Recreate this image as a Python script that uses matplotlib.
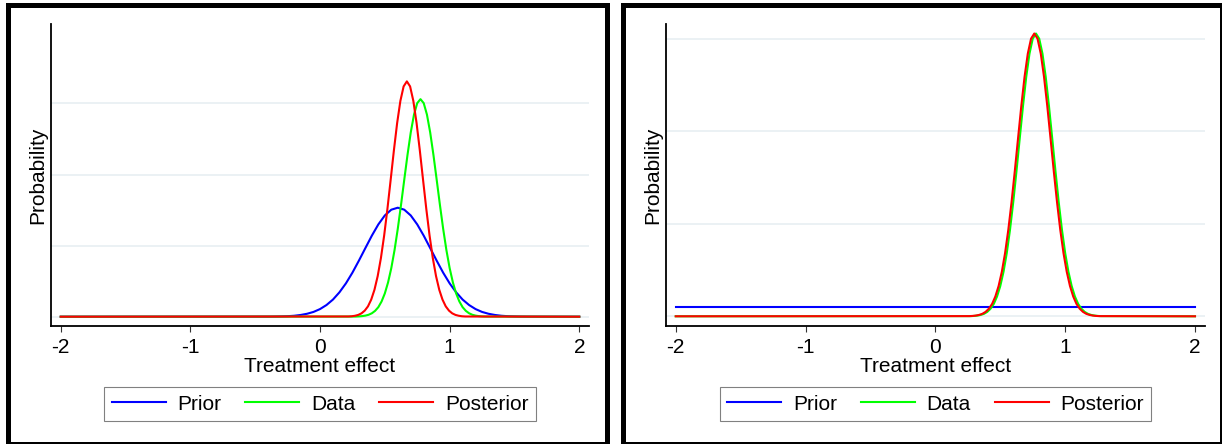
import matplotlib.pyplot as plt
from matplotlib.patches import Rectangle

plt.rcParams['font.family'] = ['Liberation Sans', 'DejaVu Sans']

# ---- data ----
xticks = [-2, -1, 0, 1, 2]
grid_left = [0, 1, 2, 3]
grid_right = [0, 1, 2, 3]
labels = ['Prior', 'Data', 'Posterior']

# left panel: informative prior
prior_x = [-2.0, -0.4, -0.35, -0.3, -0.25, -0.2, -0.15, -0.1, -0.05, 0.0, 0.05,
           0.1, 0.15, 0.2, 0.25, 0.3, 0.35, 0.4, 0.45, 0.5, 0.55, 0.6, 0.65,
           0.7, 0.75, 0.8, 0.85, 0.9, 0.95, 1.0, 1.05, 1.1, 1.15, 1.2, 1.25,
           1.3, 1.35, 1.4, 1.45, 1.5, 1.55, 1.6, 2.0]
prior_y = [0, 0.001, 0.002, 0.004, 0.007, 0.013, 0.024, 0.041, 0.067, 0.107, 0.164,
           0.241, 0.343, 0.469, 0.619, 0.788, 0.965, 1.140, 1.298, 1.424, 1.505,
           1.533, 1.505, 1.424, 1.298, 1.140, 0.965, 0.788, 0.619, 0.469, 0.343,
           0.241, 0.164, 0.107, 0.067, 0.041, 0.024, 0.013, 0.007, 0.004, 0.002,
           0.001, 0]

data_x = [-2.0, 0.275, 0.3, 0.325, 0.35, 0.375, 0.4, 0.425, 0.45, 0.475, 0.5,
          0.525, 0.55, 0.575, 0.6, 0.625, 0.65, 0.675, 0.7, 0.725, 0.75, 0.775,
          0.8, 0.825, 0.85, 0.875, 0.9, 0.925, 0.95, 0.975, 1.0, 1.025, 1.05,
          1.075, 1.1, 1.125, 1.15, 1.175, 1.2, 1.225, 1.25, 1.275, 2.0]
data_y = [0, 0.002, 0.004, 0.008, 0.015, 0.027, 0.048, 0.082, 0.134, 0.214, 0.327,
          0.482, 0.684, 0.937, 1.237, 1.573, 1.927, 2.276, 2.591, 2.842, 3.004,
          3.06, 3.004, 2.842, 2.591, 2.276, 1.927, 1.573, 1.237, 0.937, 0.684,
          0.482, 0.327, 0.214, 0.134, 0.082, 0.048, 0.027, 0.015, 0.008, 0.004,
          0.002, 0]

post_x = [-2.0, 0.22, 0.245, 0.27, 0.295, 0.32, 0.345, 0.37, 0.395, 0.42, 0.445,
          0.47, 0.495, 0.52, 0.545, 0.57, 0.595, 0.62, 0.645, 0.67, 0.695, 0.72,
          0.745, 0.77, 0.795, 0.82, 0.845, 0.87, 0.895, 0.92, 0.945, 0.97, 0.995,
          1.02, 1.045, 1.07, 1.095, 1.12, 2.0]
post_y = [0, 0.003, 0.006, 0.013, 0.025, 0.047, 0.085, 0.145, 0.240, 0.378, 0.571,
          0.826, 1.143, 1.515, 1.924, 2.339, 2.723, 3.035, 3.239, 3.31, 3.239,
          3.035, 2.723, 2.339, 1.924, 1.515, 1.143, 0.826, 0.571, 0.378, 0.240,
          0.145, 0.085, 0.047, 0.025, 0.013, 0.006, 0.003, 0]

# right panel: flat prior
flat_x = [-2.0, 2.0]
flat_y = [0.1, 0.1]
flat_data_x = data_x
flat_data_y = data_y
flat_post_x = [-2.0, 0.262, 0.287, 0.312, 0.337, 0.362, 0.387, 0.412, 0.437, 0.462,
               0.487, 0.512, 0.537, 0.562, 0.587, 0.612, 0.637, 0.662, 0.687, 0.712,
               0.737, 0.762, 0.787, 0.812, 0.837, 0.862, 0.887, 0.912, 0.937, 0.962,
               0.987, 1.012, 1.037, 1.062, 1.087, 1.112, 1.137, 1.162, 1.187, 1.212,
               1.237, 1.262, 2.0]
flat_post_y = data_y

colors = ['#0000ff', '#00ff00', '#ff0000']

W, H = 1222, 444
fig = plt.figure(figsize=(W / 100, H / 100), dpi=100)

# panel frames (drawn in pixel space)
bg = fig.add_axes([0, 0, 1, 1], zorder=-1)
bg.set_xlim(0, W)
bg.set_ylim(H, 0)
bg.axis('off')
lw_frame = 5 * 72 / 100
for x0 in [7.5, 622.5]:
    bg.add_patch(Rectangle((x0, 5.5), 599, 438, fill=False, ec='black',
                           lw=lw_frame, joinstyle='miter'))


def panel(px_left, px_right, xlim, ylim, grid, series, legend_cx):
    ax = fig.add_axes([px_left / W, (H - 326) / H, (px_right - px_left) / W, 302 / H])
    for g in grid:
        ax.axhline(g, color='#e6eef1', lw=1.1, zorder=0)
    handles = []
    for (x, y), c in zip(series, colors):
        ln, = ax.plot(x, y, color=c, lw=1.5, zorder=2)
        handles.append(ln)
    ax.set_xlim(*xlim)
    ax.set_ylim(*ylim)
    ax.set_xticks(xticks)
    ax.set_xticklabels([str(t) for t in xticks])
    ax.set_yticks([])
    ax.tick_params(axis='x', direction='out', length=4.3, width=0.8,
                   color='#333333', labelsize=15, pad=4.5)
    for s in ['top', 'right']:
        ax.spines[s].set_visible(False)
    for s in ['left', 'bottom']:
        ax.spines[s].set_linewidth(1.3)
    ax.set_xlabel('Treatment effect', fontsize=15, labelpad=0)
    ax.set_ylabel('Probability', fontsize=15, labelpad=3)
    leg = fig.legend(handles, labels, loc='center',
                     bbox_to_anchor=(legend_cx / W, 1 - 404 / H),
                     ncol=3, fontsize=15, handlelength=2.6, handletextpad=0.55,
                     columnspacing=1.15, borderpad=0.35, fancybox=False,
                     edgecolor='#808080', framealpha=1)
    leg.get_frame().set_linewidth(0.8)
    return ax


panel(51, 589, (-2.075, 2.075), (-0.131, 4.117), grid_left,
      [(prior_x, prior_y), (data_x, data_y), (post_x, post_y)], 320)
panel(666, 1205, (-2.075, 2.077), (-0.105, 3.163), grid_right,
      [(flat_x, flat_y), (flat_data_x, flat_data_y), (flat_post_x, flat_post_y)], 935.5)

fig.savefig('out.png', dpi=100)
